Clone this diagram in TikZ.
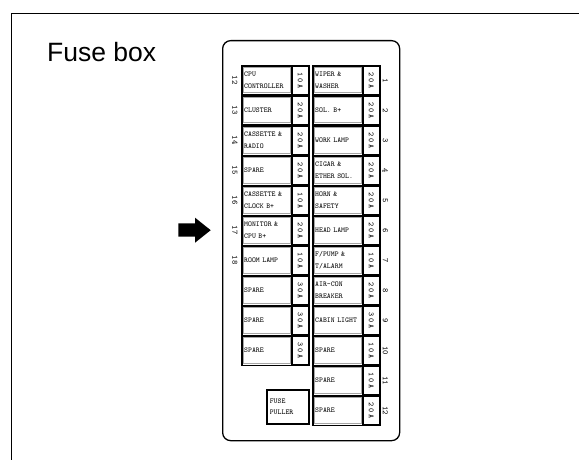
\documentclass[tikz,border=0pt]{standalone}
\usepackage{fontspec}
\setmainfont{Liberation Sans}
\usetikzlibrary{positioning}

% spread the three characters of a rating apart
\newcommand\ratingtext[3]{#1\hspace{1.8pt}#2\hspace{1.8pt}#3}

\tikzset{
  fuselabel/.style={anchor=north west, inner sep=2pt, text width=45pt, align=left,
    minimum height=28pt, font=\ttfamily\fontsize{7.4}{11.6}\selectfont},
  fuseamp/.style={anchor=north west, draw, line width=1.4pt, inner sep=0pt,
    minimum width=16.5pt, minimum height=28pt, font=\ttfamily\fontsize{7.8}{8}\selectfont},
  fuseframe/.style={draw, line width=1.8pt},
  fuseinner/.style={draw=gray!70, line width=0.6pt},
  fusenum/.style={rotate=-90, font=\ttfamily\fontsize{8.2}{9}\selectfont},
}

\begin{document}
\begin{tikzpicture}[x=1pt, y=-1pt]
  \useasboundingbox (0,0) rectangle (579,460);
  % page frame
  \draw[line width=0.9pt] (11,460) -- (11,13.3) -- (579,13.3);
  \node[anchor=base west, inner sep=0pt, font=\fontsize{26.5}{30}\selectfont] (title) at (47,62) {Fuse box};
  % panel
  \node[draw, line width=1.3pt, rounded corners=8pt, anchor=north west,
    minimum width=177pt, minimum height=400pt] (panel) at (222,40) {};
  % left row of fuses
  \foreach \row/\txt/\amp in {1/{CPU\\CONTROLLER}/10A, 2/CLUSTER/20A, 3/{CASSETTE \&\\RADIO}/20A,
      4/SPARE/20A, 5/{CASSETTE \&\\CLOCK B+}/10A, 6/{MONITOR \&\\CPU B+}/20A, 7/ROOM LAMP/10A,
      8/SPARE/30A, 9/SPARE/30A, 10/SPARE/30A} {
    \node[fuselabel] (L\row) at (242,{66+30*(\row-1)}) {\txt};
    \node[fuseamp] (La\row) at (L\row.north east) {\rotatebox{-90}{\expandafter\ratingtext\amp}};
    \draw[fuseinner] ([shift={(1.6,1.6)}]L\row.north west) rectangle ([shift={(-1.6,-1.6)}]L\row.south east);
    \draw[fuseframe] (L\row.north west) rectangle (La\row.south east);
  }
  % right row of fuses
  \foreach \row/\txt/\amp in {1/{WIPER \&\\WASHER}/20A, 2/SOL. B+/20A, 3/WORK LAMP/20A,
      4/{CIGAR \&\\ETHER SOL.}/20A, 5/{HORN \&\\SAFETY}/20A, 6/HEAD LAMP/20A,
      7/{F/PUMP \&\\T/ALARM}/10A, 8/{AIR-CON\\BREAKER}/20A, 9/CABIN LIGHT/30A,
      10/SPARE/10A, 11/SPARE/10A, 12/SPARE/20A} {
    \node[fuselabel] (R\row) at (313,{66+30*(\row-1)}) {\txt};
    \node[fuseamp] (Ra\row) at (R\row.north east) {\rotatebox{-90}{\expandafter\ratingtext\amp}};
    \draw[fuseinner] ([shift={(1.6,1.6)}]R\row.north west) rectangle ([shift={(-1.6,-1.6)}]R\row.south east);
    \draw[fuseframe] (R\row.north west) rectangle (Ra\row.south east);
    \node[fusenum] (Rn\row) at ([xshift=5pt]Ra\row.east) {\row};
  }
  % numbers on the left side
  \foreach \row/\num in {1/12, 2/13, 3/14, 4/15, 5/16, 6/17, 7/18}
    \node[fusenum] (Ln\row) at ([xshift=-7pt]L\row.west) {\num};
  % fuse puller
  \node[draw, line width=1.6pt, anchor=north west, inner sep=3pt, text width=36pt, align=left,
    minimum height=34pt, font=\ttfamily\fontsize{7.4}{11.6}\selectfont] (puller) at (266,389) {FUSE\\PULLER};
  % pointer
  \fill (178.3,223.3) -- (195,223.3) -- (195,217.7) -- (210.7,230.2) -- (195,242.7)
    -- (195,236.7) -- (178.3,236.7) -- cycle;
\end{tikzpicture}
\end{document}
